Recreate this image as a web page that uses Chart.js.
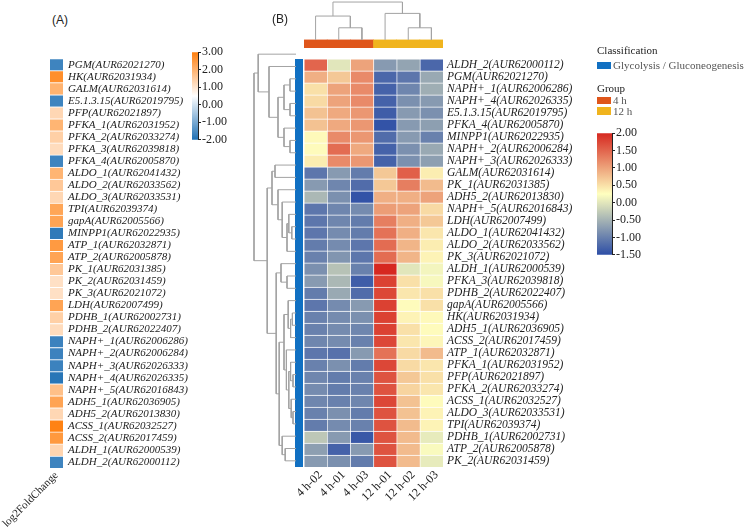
<!DOCTYPE html>
<html>
<head>
<meta charset="utf-8">
<script src="https://cdn.jsdelivr.net/npm/chart.js@4.4.0/dist/chart.umd.min.js"></script>
<style>
    body { margin: 0; background: #fff; }
    #wrap { position: relative; width: 744px; height: 527px; overflow: hidden; font-family: 'Liberation Serif', serif; }
    canvas { position: absolute; }
    .t { position: absolute; white-space: nowrap; color: #222; line-height: 1; }
    .sans { font-family: 'Liberation Sans', Arial, sans-serif; }
    .sw { position: absolute; }
</style>
</head>
<body>
<div id="wrap">
    <canvas id="geneA" width="198" height="481" style="left:0;top:47px"></canvas>
    <canvas id="barA" width="48" height="104" style="left:190px;top:44px"></canvas>
    <canvas id="heatB" width="323" height="474" style="left:280px;top:48px"></canvas>
    <canvas id="rowTree" width="44" height="419" style="left:252px;top:48px"></canvas>
    <canvas id="colTree" width="139" height="48" style="left:304px;top:0"></canvas>
    <canvas id="barB" width="57" height="138" style="left:595px;top:125px"></canvas>

    <div class="t sans" style="left:52px;top:14px;font-size:12px">(A)</div>
    <div class="t sans" style="left:272px;top:13px;font-size:12px">(B)</div>

    <div class="t" style="left:597px;top:45px;font-size:11px">Classification</div>
    <div class="sw" style="left:597px;top:62px;width:14px;height:7px;background:#1170c2"></div>
    <div class="t" style="left:613px;top:60px;font-size:11px;color:#555">Glycolysis / Gluconeogenesis</div>
    <div class="t" style="left:597px;top:83px;font-size:11px">Group</div>
    <div class="sw" style="left:597px;top:97px;width:14px;height:7px;background:#df561b"></div>
    <div class="t" style="left:613px;top:95px;font-size:11px;color:#555">4 h</div>
    <div class="sw" style="left:597px;top:107px;width:14px;height:8px;background:#f0b41e"></div>
    <div class="t" style="left:613px;top:106px;font-size:11px;color:#555">12 h</div>
</div>
<script>
// ---- data ----
const genesA = ['PGM(AUR62021270)', 'HK(AUR62031934)', 'GALM(AUR62031614)', 'E5.1.3.15(AUR62019795)',
    'PFP(AUR62021897)', 'PFKA_1(AUR62031952)', 'PFKA_2(AUR62033274)', 'PFKA_3(AUR62039818)',
    'PFKA_4(AUR62005870)', 'ALDO_1(AUR62041432)', 'ALDO_2(AUR62033562)', 'ALDO_3(AUR62033531)',
    'TPI(AUR62039374)', 'gapA(AUR62005566)', 'MINPP1(AUR62022935)', 'ATP_1(AUR62032871)',
    'ATP_2(AUR62005878)', 'PK_1(AUR62031385)', 'PK_2(AUR62031459)', 'PK_3(AUR62021072)',
    'LDH(AUR62007499)', 'PDHB_1(AUR62002731)', 'PDHB_2(AUR62022407)', 'NAPH+_1(AUR62006286)',
    'NAPH+_2(AUR62006284)', 'NAPH+_3(AUR62026333)', 'NAPH+_4(AUR62026335)', 'NAPH+_5(AUR62016843)',
    'ADH5_1(AUR62036905)', 'ADH5_2(AUR62013830)', 'ACSS_1(AUR62032527)', 'ACSS_2(AUR62017459)',
    'ALDH_1(AUR62000539)', 'ALDH_2(AUR62000112)'];
const log2FC = [-1.65, 2.69, 1.98, -1.65, 1.28, 1.95, 1.42, 1.18, -1.65, 1.95, 1.57, 1.28,
    2.24, 2.27, -1.82, 2.47, 2.27, 1.57, 1.1, 1.1, 2.27, 1.42, 1.18, -1.68,
    -1.68, -1.68, -1.9, 1.73, 2.27, 1.28, 2.95, 2.5, 1.32, -1.65];

const genesB = ['ALDH_2(AUR62000112)', 'PGM(AUR62021270)', 'NAPH+_1(AUR62006286)', 'NAPH+_4(AUR62026335)',
    'E5.1.3.15(AUR62019795)', 'PFKA_4(AUR62005870)', 'MINPP1(AUR62022935)', 'NAPH+_2(AUR62006284)',
    'NAPH+_3(AUR62026333)', 'GALM(AUR62031614)', 'PK_1(AUR62031385)', 'ADH5_2(AUR62013830)',
    'NAPH+_5(AUR62016843)', 'LDH(AUR62007499)', 'ALDO_1(AUR62041432)', 'ALDO_2(AUR62033562)',
    'PK_3(AUR62021072)', 'ALDH_1(AUR62000539)', 'PFKA_3(AUR62039818)', 'PDHB_2(AUR62022407)',
    'gapA(AUR62005566)', 'HK(AUR62031934)', 'ADH5_1(AUR62036905)', 'ACSS_2(AUR62017459)',
    'ATP_1(AUR62032871)', 'PFKA_1(AUR62031952)', 'PFP(AUR62021897)', 'PFKA_2(AUR62033274)',
    'ACSS_1(AUR62032527)', 'ALDO_3(AUR62033531)', 'TPI(AUR62039374)', 'PDHB_1(AUR62002731)',
    'ATP_2(AUR62005878)', 'PK_2(AUR62031459)'];
const samples = ['4 h-02', '4 h-01', '4 h-03', '12 h-01', '12 h-02', '12 h-03'];
const sampleGroup = ['4 h', '4 h', '4 h', '12 h', '12 h', '12 h'];
// row z-scores, columns in the order of samples
const zScores = [
    [1.5, 0.0, 1.0, -0.75, -0.65, -1.25],
    [0.9, 0.7, 1.2, -1.25, -1.1, -0.6],
    [0.5, 1.0, 1.2, -1.3, -0.95, -0.55],
    [0.55, 1.0, 1.2, -1.3, -0.85, -0.75],
    [0.75, 0.95, 1.1, -1.35, -0.75, -0.85],
    [0.75, 0.95, 1.1, -1.45, -0.75, -0.7],
    [0.3, 1.2, 1.1, -1.2, -0.75, -1.0],
    [0.28, 1.45, 0.95, -1.3, -0.85, -0.6],
    [0.4, 1.2, 1.1, -1.3, -0.85, -0.7],
    [-1.1, -0.75, -1.05, 0.7, 1.55, 0.4],
    [-0.75, -0.95, -1.2, 0.7, 1.3, 0.8],
    [-0.45, -0.85, -1.45, 0.9, 0.9, 1.0],
    [-1.1, -0.95, -0.9, 1.05, 1.0, 0.55],
    [-1.1, -0.95, -1.05, 1.3, 0.9, 0.7],
    [-1.1, -0.9, -1.05, 1.4, 0.9, 0.45],
    [-1.05, -0.9, -1.1, 1.45, 0.85, 0.4],
    [-1.0, -0.8, -1.1, 1.45, 0.85, 0.35],
    [-0.85, -0.35, -1.0, 2.0, 0.0, 0.15],
    [-0.75, -0.45, -1.35, 1.8, 0.5, 0.18],
    [-1.05, -0.6, -1.2, 1.75, 0.45, 0.5],
    [-1.1, -0.9, -0.75, 1.8, 0.28, 0.5],
    [-1.0, -0.9, -0.85, 1.8, 0.35, 0.3],
    [-1.0, -0.9, -0.95, 1.8, 0.5, 0.28],
    [-0.95, -0.9, -1.0, 1.75, 0.45, 0.32],
    [-1.1, -1.15, -0.75, 1.4, 0.55, 0.8],
    [-1.0, -0.85, -1.05, 1.75, 0.55, 0.45],
    [-0.95, -1.05, -1.0, 1.65, 0.7, 0.5],
    [-0.9, -1.05, -1.0, 1.65, 0.6, 0.45],
    [-0.95, -1.0, -0.95, 1.75, 0.75, 0.28],
    [-1.0, -0.85, -1.05, 1.65, 0.75, 0.35],
    [-1.05, -0.9, -1.0, 1.65, 0.8, 0.35],
    [-0.3, -0.75, -1.4, 1.65, 0.8, 0.05],
    [-0.7, -1.3, -0.75, 1.65, 0.8, 0.2],
    [-0.75, -0.85, -1.05, 1.65, 0.8, 0.05]
];

// linkage: [childA, childB, height]; children < n are leaves, n+k is the k-th merge
const colMerges = [[1, 2, 3.2], [4, 5, 3.2], [0, 6, 6.3], [3, 7, 7.0], [8, 9, 10]];
const rowMerges = [
    [2, 3, 1.0], [4, 5, 1.0], [34, 35, 2.0], [7, 8, 1.0], [6, 37, 2.0], [36, 38, 3.0],
    [1, 39, 4.5], [0, 40, 6.3],
    [9, 10, 3.5], [14, 15, 0.7], [13, 43, 1.2], [44, 16, 1.5], [12, 45, 2.3], [11, 46, 3.0],
    [42, 47, 4.0], [18, 19, 1.5], [17, 49, 2.5], [21, 22, 0.6], [51, 23, 0.9], [20, 52, 1.3],
    [26, 27, 0.5], [25, 54, 0.9], [29, 30, 0.5], [28, 56, 0.8], [55, 57, 1.2], [24, 58, 1.6],
    [53, 59, 2.0], [32, 33, 1.8], [31, 61, 2.3], [60, 62, 2.8], [50, 63, 3.3], [48, 64, 4.8],
    [41, 65, 7.0]
];

// ---- styles ----
const serif = 'Liberation Serif';
const paletteA = [[-2, [31, 112, 180]], [0.5, [255, 255, 255]], [3, [255, 127, 14]]];
const paletteB = [[-1.5, [45, 78, 166]], [0.25, [255, 255, 191]], [2, [214, 40, 32]]];
const groupColors = { '4 h': '#df561b', '12 h': '#f0b41e' };
const classColor = '#1170c2';
const treeColor = '#a3a3a3';
const CLASS_BAR = [-0.38, -0.05];   // classification strip, in heatmap column units
const GROUP_BAR = 2.14;             // group strip height, in column tree units
const COL_TREE_TOP = 10.54;

function colorAt(stops, v) {
    if (v <= stops[0][0]) return 'rgb(' + stops[0][1].join(',') + ')';
    for (let i = 1; i < stops.length; i++) {
        if (v <= stops[i][0]) {
            const [v0, c0] = stops[i - 1];
            const [v1, c1] = stops[i];
            const t = (v - v0) / (v1 - v0);
            return 'rgb(' + c0.map((c, j) => Math.round(c + (c1[j] - c) * t)).join(',') + ')';
        }
    }
    return 'rgb(' + stops[stops.length - 1][1].join(',') + ')';
}

// U-shaped segments of a dendrogram, one per merge: [[pos, height] x4]
function treeSegments(merges, n) {
    const pos = [], hgt = [];
    for (let i = 0; i < n; i++) { pos.push(i); hgt.push(0); }
    return merges.map(([a, b, h]) => {
        const seg = [[pos[a], hgt[a]], [pos[a], h], [pos[b], h], [pos[b], hgt[b]]];
        pos.push((pos[a] + pos[b]) / 2);
        hgt.push(h);
        return seg;
    });
}

const quiet = {
    responsive: false,
    animation: false,
    events: [],
    plugins: { legend: { display: false }, tooltip: { enabled: false } }
};

// ---- (A) log2FoldChange column ----
new Chart(document.getElementById('geneA'), {
    type: 'bar',
    data: {
        labels: genesA,
        datasets: [{
            data: genesA.map(() => [0, 1]),
            backgroundColor: log2FC.map(v => colorAt(paletteA, v)),
            borderColor: '#fff',
            borderWidth: { top: 1, left: 0, right: 0, bottom: 0 },
            borderSkipped: false,
            barPercentage: 1,
            categoryPercentage: 1
        }]
    },
    options: {
        ...quiet,
        indexAxis: 'y',
        layout: { padding: { left: 50, top: 0, right: 0, bottom: 0 } },
        scales: {
            x: {
                type: 'linear', min: 0, max: 1, offset: false,
                grid: { display: false, drawTicks: false },
                border: { display: false },
                afterBuildTicks: axis => { axis.ticks = [{ value: 0.5 }]; },
                afterFit: axis => { axis.height = 60; axis.paddingLeft = 0; axis.paddingRight = 0; },
                ticks: {
                    callback: () => 'log2FoldChange',
                    minRotation: 45, maxRotation: 45, padding: 1, labelOffset: 0,
                    color: '#222', font: { family: serif, size: 11 }
                }
            },
            y: {
                position: 'right',
                grid: { display: false, drawTicks: false },
                border: { display: false },
                afterFit: axis => { axis.width = 135; },
                ticks: { padding: 5, autoSkip: false, color: '#222', font: { family: serif, style: 'italic', size: 11 } }
            }
        }
    }
});

// ---- colour bars ----
function colourBar(id, palette, min, max, step, pad) {
    return new Chart(document.getElementById(id), {
        type: 'bar',
        data: {
            labels: [''],
            datasets: [{
                data: [[min, max]],
                backgroundColor: ctx => {
                    const chart = ctx.chart;
                    if (!chart.chartArea) return null;
                    const y = chart.scales.y;
                    const g = chart.ctx.createLinearGradient(0, y.getPixelForValue(min), 0, y.getPixelForValue(max));
                    palette.forEach(([v, c]) => g.addColorStop((v - min) / (max - min), 'rgb(' + c.join(',') + ')'));
                    return g;
                },
                borderWidth: 0,
                barPercentage: 1,
                categoryPercentage: 1
            }]
        },
        options: {
            ...quiet,
            layout: { padding: pad },
            scales: {
                x: { display: false },
                y: {
                    position: 'right', min: min, max: max,
                    grid: { drawOnChartArea: false, drawTicks: true, tickLength: 3, color: '#222' },
                    border: { display: true, color: '#222', width: 1 },
                    afterFit: axis => { axis.width = 40; },
                    ticks: {
                        stepSize: step, padding: 1, autoSkip: false, color: '#222',
                        callback: v => v.toFixed(2),
                        font: { family: serif, size: 12 }
                    }
                }
            }
        }
    });
}
colourBar('barA', paletteA, -2, 3, 1, { left: 2, top: 4, bottom: 4, right: 0 });
colourBar('barB', paletteB, -1.5, 2, 0.5, { left: 2, top: 6, bottom: 6, right: 0 });

// ---- (B) heatmap ----
const heatSets = samples.map((s, c) => ({
    data: genesB.map(() => [c, c + 1]),
    backgroundColor: zScores.map(r => colorAt(paletteB, r[c])),
    borderColor: '#fff',
    borderWidth: { top: 1, left: 1, right: 0, bottom: 0 },
    borderSkipped: false
}));
heatSets.push({
    data: genesB.map(() => CLASS_BAR),
    backgroundColor: classColor,
    borderWidth: 0
});

new Chart(document.getElementById('heatB'), {
    type: 'bar',
    data: { labels: genesB, datasets: heatSets },
    options: {
        ...quiet,
        indexAxis: 'y',
        datasets: { bar: { grouped: false, barPercentage: 1, categoryPercentage: 1 } },
        layout: { padding: { left: 15, top: 0, right: 0, bottom: 0 } },
        scales: {
            x: {
                type: 'linear', min: CLASS_BAR[0], max: samples.length, offset: false,
                grid: { display: false, drawTicks: false },
                border: { display: false },
                afterBuildTicks: axis => { axis.ticks = samples.map((s, i) => ({ value: i + 0.5 })); },
                afterFit: axis => { axis.height = 55; axis.paddingLeft = 0; axis.paddingRight = 0; },
                ticks: {
                    callback: (v, i) => samples[i],
                    autoSkip: false, minRotation: 45, maxRotation: 45, padding: 1, labelOffset: 5,
                    color: '#222', font: { family: serif, size: 12 }
                }
            },
            y: {
                position: 'right',
                grid: { display: false, drawTicks: false },
                border: { display: false },
                afterFit: axis => { axis.width = 160; },
                ticks: { padding: 4, autoSkip: false, color: '#222', font: { family: serif, style: 'italic', size: 11.5 } }
            }
        }
    }
});

// ---- row dendrogram ----
new Chart(document.getElementById('rowTree'), {
    type: 'scatter',
    data: {
        datasets: treeSegments(rowMerges, genesB.length).map(seg => ({
            data: seg.map(([p, h]) => ({ x: h, y: p })),
            showLine: true, borderColor: treeColor, borderWidth: 1, pointRadius: 0, clip: false
        }))
    },
    options: {
        ...quiet,
        layout: { padding: { left: 2, top: 0, right: 0, bottom: 0 } },
        scales: {
            x: { display: false, min: 0, max: rowMerges[rowMerges.length - 1][2], reverse: true },
            y: { display: false, min: -0.5, max: genesB.length - 0.5, reverse: true }
        }
    }
});

// ---- column dendrogram + group strip ----
const colSets = treeSegments(colMerges, samples.length).map(seg => ({
    type: 'line',
    data: seg.map(([p, h]) => ({ x: p, y: h })),
    borderColor: treeColor, borderWidth: 1, pointRadius: 0, fill: false, clip: false
}));
colSets.push({
    type: 'bar',
    data: samples.map((s, i) => ({ x: i, y: [-GROUP_BAR, 0] })),
    backgroundColor: sampleGroup.map(g => groupColors[g]),
    borderWidth: 0,
    barPercentage: 1,
    categoryPercentage: 1
});
new Chart(document.getElementById('colTree'), {
    type: 'bar',
    data: { datasets: colSets },
    options: {
        ...quiet,
        layout: { padding: 0 },
        scales: {
            x: { type: 'linear', display: false, offset: false, min: -0.5, max: samples.length - 0.5 },
            y: { display: false, min: -GROUP_BAR, max: COL_TREE_TOP }
        }
    }
});
</script>
</body>
</html>
